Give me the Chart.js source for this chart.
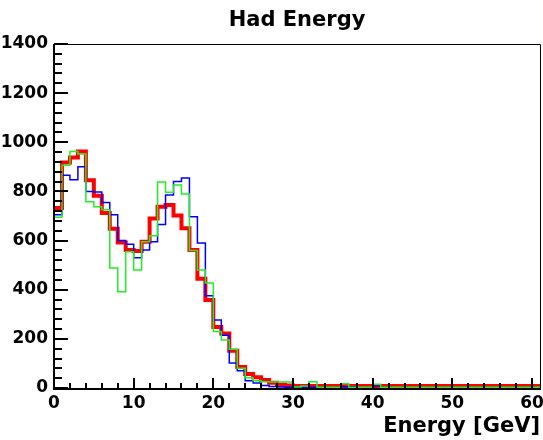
<!DOCTYPE html>
<html>
<head>
<meta charset="utf-8">
<script src="https://cdn.jsdelivr.net/npm/chart.js@4.4.1/dist/chart.umd.min.js"></script>
<style>
html,body{margin:0;padding:0;background:#fff;}
#wrap{width:543px;height:440px;position:relative;}
</style>
</head>
<body>
<div id="wrap"><canvas id="c" width="543" height="440"></canvas></div>
<script>
// Bin lower edges (GeV), and the upper edge of the last bin
const binStart = [0,1,2,3,4,5,6,7,8,9,10,11,12,13,14,15,16,17,18,19,20,21,22,23,24,25,26,27,28,29,30,
  31,32,33,34,35,36,37,38,39,40,41,42,43,44,45,46,47,48,49,50,51,52,53,54,55,56,57,58,59,60];
const binEnd = 61;

const redCounts = [733,918,938,962,845,782,712,648,592,562,558,595,690,738,745,702,650,562,445,358,
  248,222,152,85,57,44,33,21,13,10,
  8,8,8,8,8,8,8,8,8,8, 8,8,8,8,8,8,8,8,8,8, 8,8,8,8,8,8,8,8,8,8,8];
const blueCounts = [705,866,848,900,800,798,755,705,600,585,530,562,595,665,785,840,855,697,590,375,
  277,215,102,70,30,20,10,6,4,3,
  3,3,3,2,0,0,5,5,0,0, 8,0,0,0,0,0,0,0,0,0, 0,0,0,0,0,0,0,0,0,0,0];
const greenCounts = [695,907,962,952,758,738,725,488,392,555,480,595,620,838,797,826,790,560,480,427,
  230,195,158,80,42,30,25,24,24,24,
  4,8,25,3,3,3,17,3,3,3, 15,3,3,3,3,3,3,3,3,3, 3,3,3,3,3,3,3,3,3,3,3];

const yTickValues = [0,200,400,600,800,1000,1200,1400];
const xTickValues = [0,10,20,30,40,50,60];

function toSteps(vals) {
  const pts = binStart.map((x, i) => ({x: x, y: vals[i]}));
  pts.push({x: binEnd, y: vals[vals.length - 1]});
  return pts;
}

const FONT = 'DejaVu Sans';

const rootFrame = {
  id: 'rootFrame',
  afterDraw(chart) {
    const {ctx, chartArea: a, scales} = chart;
    const xs = scales.x, ys = scales.y;
    ctx.save();
    ctx.strokeStyle = '#000';
    // thin frame top and right
    ctx.lineWidth = 1;
    ctx.beginPath();
    ctx.moveTo(a.left, a.top + 0.5);
    ctx.lineTo(a.right + 0.5, a.top + 0.5);
    ctx.lineTo(a.right + 0.5, a.bottom + 1);
    ctx.stroke();
    // thick axes
    ctx.lineWidth = 2;
    ctx.beginPath();
    ctx.moveTo(a.left, a.top);
    ctx.lineTo(a.left, a.bottom + 2);
    ctx.moveTo(a.left - 1, a.bottom + 1);
    ctx.lineTo(a.right + 1, a.bottom + 1);
    ctx.stroke();
    // y ticks (inward)
    ctx.beginPath();
    for (let v = 0; v <= 1400; v += 40) {
      const py = Math.round(ys.getPixelForValue(v));
      const len = (v % 200 === 0) ? 14 : 8;
      ctx.moveTo(a.left, py);
      ctx.lineTo(a.left + len, py);
    }
    // x ticks (inward)
    for (let v = 0; v <= 60; v += 2) {
      const px = Math.round(xs.getPixelForValue(v));
      const len = (v % 10 === 0) ? 11 : 6;
      ctx.moveTo(px, a.bottom + 1);
      ctx.lineTo(px, a.bottom + 1 - len);
    }
    ctx.stroke();
    ctx.restore();
  }
};

const chart = new Chart(document.getElementById('c'), {
  type: 'line',
  data: {
    datasets: [
      {label: 'red', data: toSteps(redCounts), borderColor: '#ff0000', borderWidth: 4, order: 3},
      {label: 'blue', data: toSteps(blueCounts), borderColor: '#0000ff', borderWidth: 1.5, order: 2},
      {label: 'green', data: toSteps(greenCounts), borderColor: '#22ee22', borderWidth: 1.5, order: 1}
    ]
  },
  options: {
    responsive: false,
    animation: false,
    devicePixelRatio: 1,
    datasets: {line: {stepped: true, pointRadius: 0, fill: false, tension: 0}},
    layout: {padding: {left: 0, right: 3, top: 0, bottom: 0}},
    plugins: {
      legend: {display: false},
      tooltip: {enabled: false},
      title: {
        display: true, text: 'Had Energy', color: '#000', fullSize: false,
        font: {family: FONT, weight: 'bold', size: 21},
        padding: {top: 8, bottom: 10.8}
      }
    },
    scales: {
      x: {
        type: 'linear', min: 0, max: binEnd,
        grid: {display: false, drawTicks: false},
        border: {display: false},
        ticks: {
          color: '#000', padding: 5, includeBounds: false, stepSize: 10, maxRotation: 0, autoSkip: false,
          font: {family: FONT, weight: 'bold', size: 17},
          callback: v => String(v)
        },
        afterBuildTicks: s => { s.ticks = xTickValues.map(v => ({value: v})); },
        title: {
          display: true, text: 'Energy [GeV]', align: 'end', color: '#000',
          font: {family: FONT, weight: 'bold', size: 21},
          padding: {top: 0, bottom: 1}
        },
        afterFit: s => { s.height = 52; s.paddingLeft = 0; s.paddingRight = 0; }
      },
      y: {
        type: 'linear', min: 0, max: 1400,
        grid: {display: false, drawTicks: false},
        border: {display: false},
        ticks: {
          color: '#000', padding: 6, stepSize: 200, autoSkip: false,
          font: {family: FONT, weight: 'bold', size: 17},
          callback: v => String(v)
        },
        afterBuildTicks: s => { s.ticks = yTickValues.map(v => ({value: v})); },
        afterFit: s => { s.width = 54; s.paddingTop = 0; s.paddingBottom = 0; }
      }
    }
  },
  plugins: [rootFrame]
});
</script>
</body>
</html>
